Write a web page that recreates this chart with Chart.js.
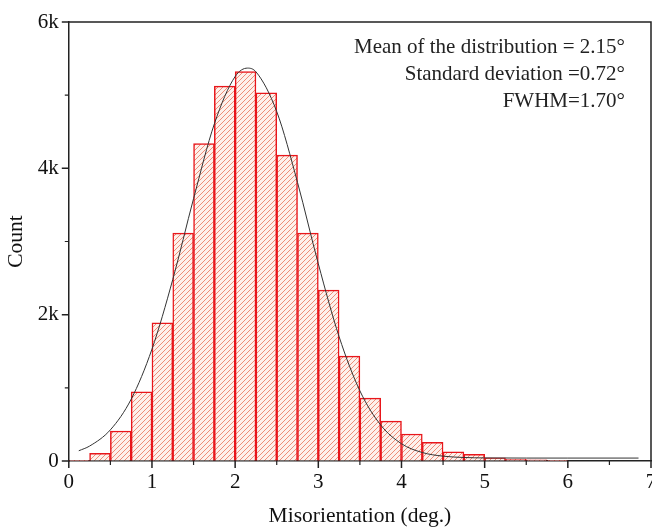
<!DOCTYPE html>
<html>
<head>
<meta charset="utf-8">
<script src="https://cdn.jsdelivr.net/npm/chart.js@4"></script>
<style>
  html, body { margin: 0; padding: 0; background: #fff; overflow: hidden; }
  #wrap { width: 652px; height: 529px; }
</style>
</head>
<body>
<div id="wrap"><canvas id="chart"></canvas></div>
<script>
// histogram bins (centres, width 0.25 deg) and counts
const binCenters = [0.125, 0.375, 0.625, 0.875, 1.125, 1.375, 1.625, 1.875, 2.125, 2.375, 2.625, 2.875,
  3.125, 3.375, 3.625, 3.875, 4.125, 4.375, 4.625, 4.875, 5.125, 5.375, 5.625, 5.875];
const binCounts = [10, 105, 410, 947, 1890, 3115, 4340, 5123, 5323, 5031, 4180, 3115,
  2336, 1434, 860, 546, 369, 255, 127, 91, 45, 23, 15, 10];

// fitted curve
const fitX = [0.12, 0.25, 0.5, 0.75, 1.0, 1.25, 1.5, 1.75, 2.0, 2.15, 2.25, 2.5, 2.75, 3.0,
  3.25, 3.5, 3.75, 4.0, 4.25, 4.5, 4.75, 5.0, 5.5, 6.0, 6.85];
const fitY = [140, 204, 426, 845, 1529, 2480, 3586, 4608, 5255, 5370, 5319, 4776, 3807, 2695,
  1699, 959, 492, 236, 116, 66, 48, 42, 40, 40, 40];

const xTicks = [0, 1, 2, 3, 4, 5, 6, 7];
const yTicks = [0, 2000, 4000, 6000];
const xMinorTicks = [0.5, 1.5, 2.5, 3.5, 4.5, 5.5, 6.5];
const yMinorTicks = [1000, 3000, 5000];

const notes = [
  "Mean of the distribution = 2.15°",
  "Standard deviation =0.72°",
  "FWHM=1.70°",
];

const FONT = "'Liberation Serif', 'Times New Roman', serif";
const AXIS = "#222";

// diagonal hatch fill like the original plot
function makeHatch() {
  const c = document.createElement("canvas");
  c.width = 5;
  c.height = 5;
  const g = c.getContext("2d");
  g.fillStyle = "#fdf1ec";
  g.fillRect(0, 0, 5, 5);
  g.strokeStyle = "rgba(235,125,100,0.85)";
  g.lineWidth = 1;
  g.beginPath();
  g.moveTo(-1, 6); g.lineTo(6, -1);
  g.moveTo(-1, 1); g.lineTo(1, -1);
  g.moveTo(4, 6); g.lineTo(6, 4);
  g.stroke();
  return g.createPattern(c, "repeat");
}

const extras = {
  id: "extras",
  afterDraw(chart) {
    const { ctx, chartArea: a, scales } = chart;
    ctx.save();
    // frame on top and right
    ctx.strokeStyle = AXIS;
    ctx.lineWidth = 1.5;
    ctx.beginPath();
    ctx.moveTo(a.left, a.top);
    ctx.lineTo(a.right, a.top);
    ctx.lineTo(a.right, a.bottom);
    ctx.stroke();
    // major ticks (outward)
    ctx.beginPath();
    xTicks.forEach((v) => {
      const px = scales.x.getPixelForValue(v);
      ctx.moveTo(px, a.bottom);
      ctx.lineTo(px, a.bottom + 7);
    });
    yTicks.forEach((v) => {
      const py = scales.y.getPixelForValue(v);
      ctx.moveTo(a.left, py);
      ctx.lineTo(a.left - 7, py);
    });
    ctx.stroke();
    // minor ticks
    ctx.lineWidth = 1.2;
    ctx.beginPath();
    xMinorTicks.forEach((v) => {
      const px = scales.x.getPixelForValue(v);
      ctx.moveTo(px, a.bottom);
      ctx.lineTo(px, a.bottom + 4);
    });
    yMinorTicks.forEach((v) => {
      const py = scales.y.getPixelForValue(v);
      ctx.moveTo(a.left, py);
      ctx.lineTo(a.left - 4, py);
    });
    ctx.stroke();
    // annotation text
    ctx.fillStyle = "#222";
    ctx.font = "21px " + FONT;
    ctx.textAlign = "right";
    ctx.textBaseline = "middle";
    notes.forEach((t, i) => {
      ctx.fillText(t, a.right - 26, a.top + 25 + i * 27);
    });
    ctx.restore();
  },
};

new Chart(document.getElementById("chart"), {
  type: "bar",
  data: {
    datasets: [
      {
        type: "line",
        data: fitX.map((x, i) => ({ x, y: fitY[i] })),
        borderColor: "#333",
        borderWidth: 1,
        pointRadius: 0,
        cubicInterpolationMode: "monotone",
        order: 0,
      },
      {
        type: "bar",
        data: binCenters.map((x, i) => ({ x, y: binCounts[i] })),
        backgroundColor: makeHatch(),
        borderColor: "#e8161b",
        borderWidth: 1.5,
        barPercentage: 1,
        categoryPercentage: 1,
        grouped: false,
        order: 1,
      },
    ],
  },
  options: {
    responsive: true,
    maintainAspectRatio: false,
    devicePixelRatio: 1,
    animation: false,
    layout: { padding: { left: 3, top: 22, right: 1, bottom: 0 } },
    plugins: { legend: { display: false }, tooltip: { enabled: false } },
    scales: {
      x: {
        type: "linear",
        min: 0,
        max: 7,
        offset: false,
        afterFit(scale) { scale.paddingRight = 0; },
        afterBuildTicks(scale) { scale.ticks = xTicks.map((v) => ({ value: v })); },
        ticks: { color: "#111", font: { family: FONT, size: 21 }, padding: 2 },
        grid: { offset: false, drawOnChartArea: false, drawTicks: true, tickLength: 7, tickColor: "rgba(0,0,0,0)" },
        border: { display: true, color: AXIS, width: 1.5 },
        title: { display: true, text: "Misorientation (deg.)", color: "#111", font: { family: FONT, size: 21.5 }, padding: { top: 6, bottom: 0 } },
      },
      y: {
        min: 0,
        max: 6000,
        afterBuildTicks(scale) { scale.ticks = yTicks.map((v) => ({ value: v })); },
        ticks: {
          color: "#111",
          font: { family: FONT, size: 21 },
          padding: 3,
          callback: (v) => (v === 0 ? "0" : v / 1000 + "k"),
        },
        grid: { offset: false, drawOnChartArea: false, drawTicks: true, tickLength: 7, tickColor: "rgba(0,0,0,0)" },
        border: { display: true, color: AXIS, width: 1.5 },
        title: { display: true, text: "Count", color: "#111", font: { family: FONT, size: 21.5 }, padding: { top: 0, bottom: 6 } },
      },
    },
  },
  plugins: [extras],
});
</script>
</body>
</html>
